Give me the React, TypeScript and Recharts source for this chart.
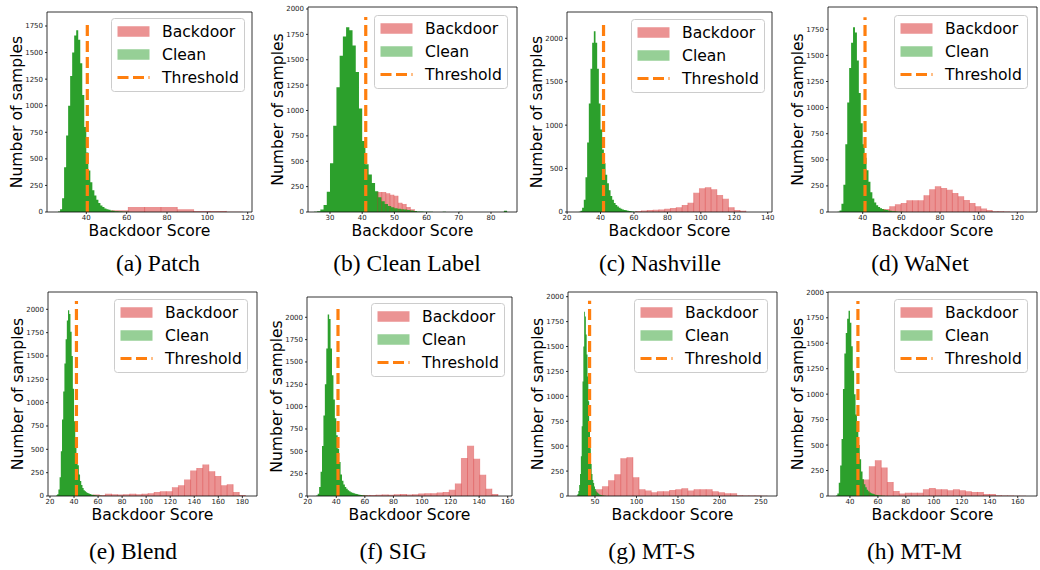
import React from 'react';
import { ComposedChart, Area, XAxis, YAxis, ReferenceLine, Legend, Label } from 'recharts';

// ---------------- data ----------------
const CAPTIONS = ['(a) Patch', '(b) Clean Label', '(c) Nashville', '(d) WaNet', '(e) Blend', '(f) SIG', '(g) MT-S', '(h) MT-M'];
const LEGEND_LABELS = ['Backdoor', 'Clean', 'Threshold'];
const X_LABEL = 'Backdoor Score';
const Y_LABEL = 'Number of samples';

// Clean-sample histograms (bin width 1, first bin left edge in cleanStart)
const cleanStart = [26, 25, 27, 27, 25, 26, 28, 30];
const cleanWidth = 1;
const cleanA = [5, 25, 130, 420, 720, 1000, 1280, 1500, 1660, 1710, 1620, 1400, 1100, 800, 560, 390, 280, 205, 155, 115, 85, 62, 46, 34, 26, 20, 15, 11, 8, 6, 5, 4, 3, 2, 2, 1, 1];
const cleanB = [3, 8, 25, 70, 200, 480, 850, 1230, 1540, 1730, 1820, 1790, 1640, 1380, 1020, 700, 470, 370, 285, 205, 145, 105, 78, 60, 48, 38, 32, 28, 24, 20, 15, 10, 6, 4, 3, 2, 2, 1, 1, 1, 3, 1, 0, 1, 0, 3, 0, 0, 1, 0, 0, 0, 0, 0, 0, 0, 0, 0, 0, 12];
const cleanC = [3, 15, 50, 140, 400, 800, 1250, 1650, 1950, 2080, 1950, 1650, 1250, 950, 720, 560, 430, 330, 250, 185, 140, 105, 80, 62, 48, 38, 30, 24, 19, 15, 11, 8, 5, 3, 2];
const cleanD = [3, 15, 80, 260, 650, 1050, 1380, 1620, 1770, 1720, 1450, 1140, 850, 650, 520, 400, 290, 190, 130, 92, 65, 48, 36, 28, 22, 18, 14, 11, 8, 6, 4, 3, 2, 2];
const cleanE = [5, 20, 70, 200, 480, 820, 1120, 1420, 1680, 1880, 1990, 1950, 1760, 1500, 1150, 800, 600, 450, 330, 230, 160, 118, 85, 62, 50, 40, 32, 26, 21, 17, 14, 11, 8, 6, 4, 3, 2, 2];
const cleanF = [5, 25, 100, 270, 560, 900, 1250, 1650, 2030, 1980, 1650, 1350, 1080, 870, 680, 530, 380, 240, 170, 130, 100, 80, 65, 52, 43, 36, 30, 25, 21, 17, 13, 10, 7, 5, 3, 2];
const cleanG = [5, 20, 50, 110, 220, 400, 700, 1150, 1500, 1850, 1800, 1620, 1420, 1200, 950, 700, 480, 320, 220, 160, 130, 95, 70, 52, 40, 30, 22, 16, 12, 9, 7, 5, 4, 3, 2];
const cleanH = [5, 25, 130, 300, 560, 1050, 1400, 1600, 1740, 1820, 1700, 1470, 1230, 1000, 800, 640, 500, 360, 240, 165, 115, 85, 62, 46, 35, 27, 21, 16, 12, 9, 7, 5, 4, 3, 2];

// Backdoor-sample histograms
const backdoorStart = [52.7, 44.8, 61, 51, 56, 55, 44.3, 45.2];
const backdoorWidth = [8.1, 1.27, 3.47, 2.95, 5.06, 4.27, 7.35, 4.3];
const backdoorA = [16, 47, 47, 47, 25, 10, 10, 2];
const backdoorB = [197, 197, 185, 170, 160, 90, 80, 50, 28];
const backdoorC = [12, 18, 22, 25, 30, 36, 45, 55, 80, 107, 222, 273, 284, 261, 196, 153, 54, 23, 15];
const backdoorD = [29, 55, 74, 86, 112, 112, 112, 160, 217, 246, 230, 214, 182, 150, 115, 86, 55, 33, 19, 8, 6, 4, 3, 2, 2];
const backdoorE = [15, 12, 25, 18, 15, 18, 25, 20, 25, 30, 42, 50, 50, 95, 115, 176, 272, 300, 337, 265, 215, 115, 125, 43, 10];
const backdoorF = [8, 12, 10, 15, 18, 15, 20, 22, 18, 20, 28, 30, 30, 38, 45, 70, 140, 424, 562, 417, 238, 82, 22];
const backdoorG = [40, 67, 97, 158, 218, 379, 389, 188, 67, 55, 37, 47, 47, 60, 67, 77, 55, 67, 67, 67, 47, 37, 27, 27, 7, 6, 5, 4, 3];
const backdoorH = [120, 161, 292, 351, 279, 138, 49, 24, 33, 33, 33, 66, 79, 66, 66, 56, 66, 56, 46, 40, 40, 20, 20, 7, 5, 4, 3, 2];

const thresholds = [40.5, 41.1, 41.8, 41.2, 42, 41.2, 43.5, 45.7];
const thresholdTops = [1800, 1920, 2200, 1865, 2090, 2140, 1960, 1915];

const xTicksA = [40, 60, 80, 100, 120];
const xTicksB = [30, 40, 50, 60, 70, 80];
const xTicksC = [20, 40, 60, 80, 100, 120, 140];
const xTicksD = [40, 60, 80, 100, 120];
const xTicksE = [20, 40, 60, 80, 100, 120, 140, 160, 180];
const xTicksF = [20, 40, 60, 80, 100, 120, 140, 160];
const xTicksG = [50, 100, 150, 200, 250];
const xTicksH = [40, 60, 80, 100, 120, 140, 160];

const yTicks250_1750 = [0, 250, 500, 750, 1000, 1250, 1500, 1750];
const yTicks250_2000 = [0, 250, 500, 750, 1000, 1250, 1500, 1750, 2000];
const yTicks500_2000 = [0, 500, 1000, 1500, 2000];

const xDomains: [number, number][] = [
  [20.52, 122.13], [23.17, 88.07], [19.95, 142.56], [22.04, 130.2],
  [18.34, 192.2], [19.5, 163.0], [17.5, 269.3], [24.3, 173.8],
];
const yMaxima = [1881.7, 2019.7, 2302.8, 1963.6, 2185.3, 2227, 2047, 2003];

const CLEAN = [cleanA, cleanB, cleanC, cleanD, cleanE, cleanF, cleanG, cleanH];
const BACKDOOR = [backdoorA, backdoorB, backdoorC, backdoorD, backdoorE, backdoorF, backdoorG, backdoorH];
const X_TICKS = [xTicksA, xTicksB, xTicksC, xTicksD, xTicksE, xTicksF, xTicksG, xTicksH];
const Y_TICKS = [yTicks250_1750, yTicks250_2000, yTicks500_2000, yTicks250_1750, yTicks250_2000, yTicks250_2000, yTicks250_2000, yTicks250_2000];

// ---------------- layout / style ----------------
const LAYOUT = [
  { L: 47, T: 12, W: 205, H: 200, lgR: 7, lgT: 6, capX: 158, capY: 271 },
  { L: 308, T: 7, W: 209, H: 205, lgR: 8.7, lgT: 8, capX: 407, capY: 271 },
  { L: 567, T: 12, W: 205, H: 200, lgR: 7, lgT: 7, capX: 660, capY: 271 },
  { L: 828, T: 7, W: 209, H: 205, lgR: 8.7, lgT: 8, capX: 920, capY: 271 },
  { L: 48, T: 292, W: 209, H: 204, lgR: 8.7, lgT: 7.3, capX: 133, capY: 559 },
  { L: 307, T: 297, W: 205, H: 199, lgR: 7, lgT: 6.3, capX: 393, capY: 559 },
  { L: 568, T: 292, W: 209, H: 204, lgR: 8.7, lgT: 7.3, capX: 652, capY: 559 },
  { L: 828, T: 292, W: 209, H: 204, lgR: 8.7, lgT: 7.3, capX: 914.5, capY: 559 },
];
const ML = 62;
const MT = 5;
const MR = 5;
const XH = 40;
const LG_W = 134;
const LG_H = 74;
const FONT = 'DejaVu Sans';
const GREEN = '#2ca02c';
const RED_FILL = '#eb9393';
const GREEN_LIGHT = '#96cf96';
const ORANGE = '#ff7f0e';

function binValue(start: number, width: number, counts: number[], x: number) {
  const i = Math.floor((x - start) / width + 1e-7);
  return i >= 0 && i < counts.length ? counts[i] : 0;
}

function buildTable(cs: number, cw: number, cv: number[], bs: number, bw: number, bv: number[]) {
  const xs = new Set<number>();
  for (let i = 0; i <= cv.length; i++) xs.add(+(cs + i * cw).toFixed(6));
  for (let i = 0; i <= bv.length; i++) xs.add(+(bs + i * bw).toFixed(6));
  const sorted = Array.from(xs).sort((a, b) => a - b);
  return sorted.map((x) => ({
    x,
    backdoor: binValue(bs, bw, bv, x),
    clean: binValue(cs, cw, cv, x),
  }));
}

function edges(bs: number, bw: number, bv: number[]) {
  const out: { x: number; top: number }[] = [];
  for (let i = 0; i <= bv.length; i++) {
    out.push({ x: bs + i * bw, top: Math.max(bv[i - 1] || 0, bv[i] || 0) });
  }
  return out;
}

const ROWS = [13.5, 36.5, 59.5];

const LegendBox = () => (
  <svg width={LG_W} height={LG_H} style={{ display: 'block' }}>
    <rect x={0.5} y={0.5} width={LG_W - 1} height={LG_H - 1} rx={3} fill="#fff" fillOpacity={0.8} stroke="#cccccc" strokeWidth={1} />
    <rect x={6.5} y={ROWS[0] - 5.25} width={32} height={10.5} fill={RED_FILL} />
    <rect x={6.5} y={ROWS[1] - 5.25} width={32} height={10.5} fill={GREEN_LIGHT} />
    <line x1={6.5} x2={38.5} y1={ROWS[2]} y2={ROWS[2]} stroke={ORANGE} strokeWidth={3} strokeDasharray="11 4.5" />
    {LEGEND_LABELS.map((t, i) => (
      <text key={t} x={51} y={ROWS[i] + 5.7} fontFamily={FONT} fontSize={15.6} fill="#000">{t}</text>
    ))}
  </svg>
);

function Panel({ idx }: { idx: number }) {
  const lay = LAYOUT[idx];
  const table = buildTable(cleanStart[idx], cleanWidth, CLEAN[idx], backdoorStart[idx], backdoorWidth[idx], BACKDOOR[idx]);
  const xd = xDomains[idx];
  const yd: [number, number] = [0, yMaxima[idx]];
  const redEdges = edges(backdoorStart[idx], backdoorWidth[idx], BACKDOOR[idx]);
  const cw = ML + lay.W + MR;
  const ch = MT + lay.H + XH;
  const tickStyle = { fontSize: 7, fontFamily: FONT, fill: '#222' };
  return (
    <div style={{ position: 'absolute', left: lay.L - ML, top: lay.T - MT }}>
      <ComposedChart width={cw} height={ch} data={table} margin={{ top: MT, right: MR, left: 0, bottom: 0 }}>
        <XAxis
          type="number"
          dataKey="x"
          domain={xd}
          allowDataOverflow
          ticks={X_TICKS[idx]}
          height={XH}
          tickSize={2}
          tickMargin={1}
          tick={tickStyle}
          axisLine={{ stroke: '#000', strokeWidth: 0.8 }}
          tickLine={{ stroke: '#000', strokeWidth: 0.8 }}
          interval={0}
        >
          <Label value={X_LABEL} position="insideTop" offset={13} fontSize={15.6} fontFamily={FONT} fill="#000" />
        </XAxis>
        <YAxis
          type="number"
          domain={yd}
          allowDataOverflow
          ticks={Y_TICKS[idx]}
          width={ML}
          tickSize={2}
          tickMargin={2}
          tick={tickStyle}
          axisLine={{ stroke: '#000', strokeWidth: 0.8 }}
          tickLine={{ stroke: '#000', strokeWidth: 0.8 }}
          interval={0}
        >
          <Label value={Y_LABEL} angle={-90} position="center" fontSize={15.6} fontFamily={FONT} fill="#000" />
        </YAxis>
        <Area
          type="stepAfter"
          dataKey="backdoor"
          name="Backdoor"
          fill={RED_FILL}
          fillOpacity={1}
          stroke="none"
          isAnimationActive={false}
          dot={false}
          activeDot={false}
        />
        {redEdges.map((e, i) => (
          <ReferenceLine
            key={'e' + i}
            segment={[{ x: e.x, y: 0 }, { x: e.x, y: e.top }]}
            stroke="#d62728"
            strokeOpacity={0.4}
            strokeWidth={0.8}
          />
        ))}
        <Area
          type="stepAfter"
          dataKey="clean"
          name="Clean"
          fill={GREEN}
          fillOpacity={1}
          stroke="none"
          isAnimationActive={false}
          dot={false}
          activeDot={false}
        />
        <ReferenceLine
          segment={[{ x: thresholds[idx], y: 0 }, { x: thresholds[idx], y: thresholdTops[idx] }]}
          stroke={ORANGE}
          strokeWidth={3.2}
          strokeDasharray="11 5"
        />
        {/* top and right spines of the axes frame */}
        <ReferenceLine y={yd[1]} stroke="#000" strokeWidth={0.8} ifOverflow="visible" />
        <ReferenceLine x={xd[1]} stroke="#000" strokeWidth={0.8} ifOverflow="visible" />
        <Legend
          layout="horizontal"
          verticalAlign="middle"
          align="center"
          wrapperStyle={{ left: ML + lay.W - lay.lgR - LG_W, top: MT + lay.lgT, width: LG_W, height: LG_H }}
          content={() => <LegendBox />}
        />
      </ComposedChart>
    </div>
  );
}

export default function App() {
  return (
    <div style={{ position: 'absolute', left: 0, top: 0, width: 1040, height: 570, background: '#fff', overflow: 'hidden' }}>
      {LAYOUT.map((_, i) => (
        <Panel key={i} idx={i} />
      ))}
      <svg width={1040} height={570} style={{ position: 'absolute', left: 0, top: 0, pointerEvents: 'none' }}>
        {LAYOUT.map((lay, i) => (
          <text key={i} x={lay.capX} y={lay.capY} textAnchor="middle" fontFamily="Liberation Serif" fontSize={23.5} fill="#000">
            {CAPTIONS[i]}
          </text>
        ))}
      </svg>
    </div>
  );
}
